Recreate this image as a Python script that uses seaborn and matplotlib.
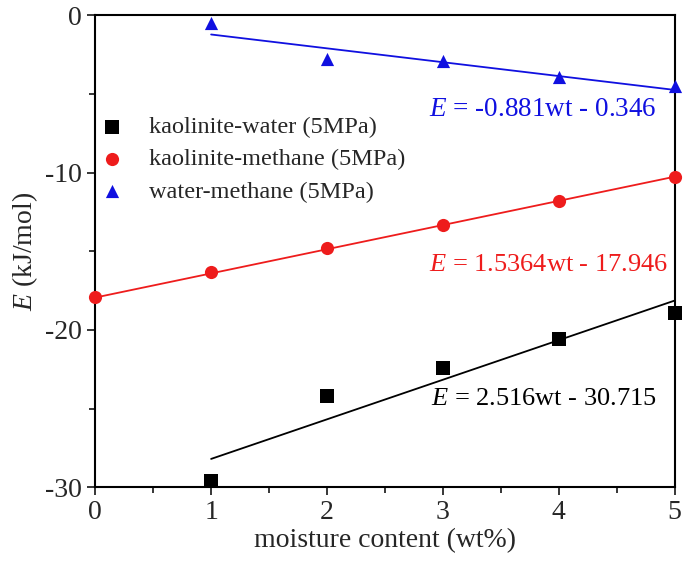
import numpy as np
import pandas as pd
import matplotlib
matplotlib.use("Agg")
import matplotlib.pyplot as plt
from matplotlib.ticker import MultipleLocator
import seaborn as sns

# data
moisture = [0, 1, 2, 3, 4, 5]
kw_x = [1, 2, 3, 4, 5]
kw_E = [-29.6, -24.2, -22.4, -20.6, -18.9]
km_x = [0, 1, 2, 3, 4, 5]
km_E = [-17.9, -16.3, -14.8, -13.35, -11.8, -10.3]
wm_x = [1, 2, 3, 4, 5]
wm_E = [-0.5, -2.8, -2.9, -3.9, -4.5]

# linear fits as printed on the chart (slope, intercept)
kw_fit = (2.516, -30.715)
km_fit = (1.5364, -17.946)
wm_fit = (-0.881, -0.346)

labels = ["kaolinite-water (5MPa)", "kaolinite-methane (5MPa)", "water-methane (5MPa)"]
colors = ["black", "#ee1c1c", "#1010e0"]
markers = ["s", "o", "^"]

sns.set_theme(style="ticks")
plt.rcParams["font.family"] = ["Liberation Serif", "DejaVu Serif"]
plt.rcParams["axes.unicode_minus"] = False
plt.rcParams["mathtext.fontset"] = "custom"
plt.rcParams["mathtext.rm"] = "Liberation Serif"
plt.rcParams["mathtext.it"] = "Liberation Serif:italic"

fig = plt.figure(figsize=(6.85, 5.62), dpi=100)
ax = fig.add_axes([0.139, 0.133, 0.846, 0.840])

series = [(kw_x, kw_E, kw_fit), (km_x, km_E, km_fit), (wm_x, wm_E, wm_fit)]
for (xs, ys, fit), lab, col, mk in zip(series, labels, colors, markers):
    df = pd.DataFrame({"x": xs, "E": ys})
    df["fit"] = fit[0] * df["x"] + fit[1]
    sns.lineplot(data=df, x="x", y="fit", color=col, linewidth=1.3, ax=ax, legend=False)
    sns.scatterplot(data=df, x="x", y="E", color=col, marker=mk, s=90, edgecolor=col,
                    linewidth=0, ax=ax, label=lab, zorder=3, clip_on=False)

ax.text(2.88, -6.0, r"$E$ = -0.881wt - 0.346", color=colors[2], fontsize=19.5, va="center")
ax.text(2.88, -15.9, r"$E$ = 1.5364wt - 17.946", color=colors[1], fontsize=19, va="center")
ax.text(2.90, -24.4, r"$E$ = 2.516wt - 30.715", color=colors[0], fontsize=19, va="center")

ax.set_xlim(0, 5)
ax.set_ylim(-30, 0)
ax.xaxis.set_major_locator(MultipleLocator(1))
ax.xaxis.set_minor_locator(MultipleLocator(0.5))
ax.yaxis.set_major_locator(MultipleLocator(10))
ax.yaxis.set_minor_locator(MultipleLocator(5))
ax.tick_params(which="both", direction="out", top=False, right=False, labelsize=20, width=1.3)
ax.tick_params(which="major", length=6)
ax.tick_params(which="minor", length=4)
for sp in ax.spines.values():
    sp.set_linewidth(1.5)
    sp.set_color("black")

ax.set_xlabel("moisture content (wt%)", fontsize=20, labelpad=2)
ax.set_ylabel(r"$E$ (kJ/mol)", fontsize=20, labelpad=4)

leg = ax.legend(loc="upper left", bbox_to_anchor=(-0.025, 0.822), frameon=False, fontsize=17.5,
                handletextpad=0.9, labelspacing=0.42, handlelength=1.2, borderaxespad=0.3)

fig.savefig("out.png", dpi=100)
